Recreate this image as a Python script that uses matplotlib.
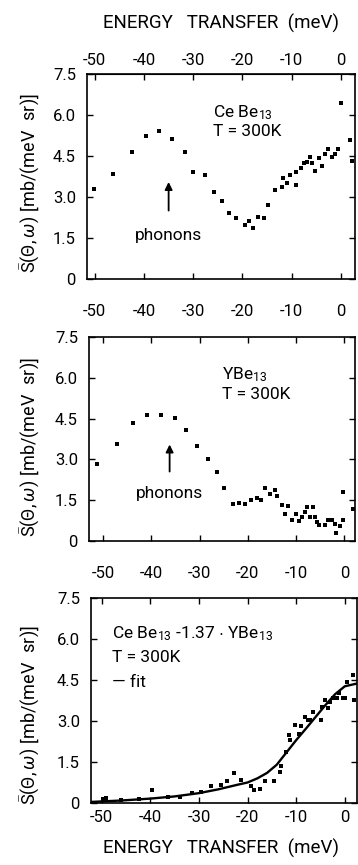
#!/usr/bin/env python
import matplotlib
matplotlib.use("Agg")
import matplotlib.pyplot as plt

plt.rcParams['font.family'] = ['Roboto', 'DejaVu Sans']
plt.rcParams['axes.unicode_minus'] = False
plt.rcParams['mathtext.fontset'] = 'custom'
plt.rcParams['mathtext.rm'] = 'Roboto'
plt.rcParams['mathtext.it'] = 'Roboto:italic'
plt.rcParams['mathtext.bf'] = 'Roboto:bold'

# Panel 1: CeBe13, T = 300K
cebe_x = [-50.1, -46.3, -42.4, -39.6, -36.9, -34.3, -31.7, -30.0, -27.7, -25.7,
          -24.2, -22.7, -21.2, -19.5, -18.6, -17.8, -16.8, -15.7, -14.7, -13.4,
          -12.0, -11.7, -11.0, -10.3, -9.0, -9.1, -8.1, -7.5, -6.8, -6.2,
          -5.9, -5.2, -4.5, -3.9, -3.2, -2.5, -1.8, -1.2, -0.5, 0.0,
          1.9, 2.2]
cebe_y = [3.29, 3.84, 4.63, 5.24, 5.42, 5.13, 4.63, 3.91, 3.79, 3.17,
          2.84, 2.41, 2.23, 1.98, 2.11, 1.86, 2.26, 2.23, 2.72, 3.24,
          3.35, 3.69, 3.51, 3.81, 3.45, 3.90, 4.05, 4.24, 4.27, 4.46,
          4.24, 3.96, 4.42, 4.12, 4.58, 4.75, 4.48, 4.58, 4.75, 6.43,
          5.09, 4.32]

# Panel 2: YBe13, T = 300K
ybe_x = [-51.2, -47.2, -43.8, -40.8, -37.9, -35.1, -32.8, -30.6, -28.3, -26.4,
         -25.0, -23.1, -21.8, -20.5, -19.3, -18.1, -17.3, -16.4, -15.4, -14.3,
         -13.9, -13.0, -12.3, -11.6, -10.9, -10.0, -9.4, -8.7, -8.1, -7.8,
         -7.1, -6.6, -6.1, -5.7, -5.2, -4.0, -3.3, -2.6, -1.9, -1.7,
         -1.0, -0.3, -0.2, 1.7]
ybe_y = [2.82, 3.58, 4.34, 4.64, 4.64, 4.52, 4.07, 3.48, 3.03, 2.54,
         1.96, 1.35, 1.40, 1.35, 1.52, 1.59, 1.50, 1.96, 1.74, 1.89,
         1.65, 1.34, 1.00, 1.27, 0.76, 1.00, 0.74, 0.88, 1.07, 1.25,
         0.88, 1.25, 0.88, 0.70, 0.58, 0.58, 0.78, 0.78, 0.64, 0.29,
         0.54, 0.76, 1.81, 1.16]

# Panel 3: CeBe13 - 1.37 YBe13 difference and fit
diff_x = [-49.7, -49.2, -46.1, -42.4, -39.6, -36.4, -34.0, -31.4, -29.6, -27.5,
          -25.5, -24.2, -22.7, -21.3, -19.2, -18.6, -17.5, -16.5, -14.5, -13.4,
          -13.1, -12.1, -11.5, -11.2, -10.2, -9.4, -9.0, -8.1, -7.6, -7.2,
          -6.6, -4.9, -4.7, -4.0, -3.5, -3.1, -2.4, -1.7, -1.3, -0.3,
          0.0, 0.5, 1.6, 1.9]
diff_y = [0.16, 0.18, 0.12, 0.15, 0.49, 0.22, 0.22, 0.37, 0.39, 0.61,
          0.65, 0.79, 1.10, 0.83, 0.61, 0.49, 0.51, 0.82, 0.82, 1.12,
          1.34, 1.85, 2.50, 2.32, 2.87, 2.52, 2.83, 3.15, 3.02, 3.02,
          3.32, 3.05, 3.51, 3.78, 3.48, 3.68, 3.84, 3.84, 4.02, 3.84,
          3.84, 4.41, 4.70, 3.76]
fit_x = [-52, -46, -40, -35, -30, -26, -22, -20, -18, -16,
         -14, -12, -10, -8, -6, -4, -2, 0, 2.5]
fit_y = [0.04, 0.09, 0.16, 0.24, 0.36, 0.50, 0.67, 0.75, 0.90, 1.10,
         1.40, 1.85, 2.30, 2.72, 3.15, 3.58, 3.98, 4.27, 4.37]

x_ticks = [-50, -40, -30, -20, -10, 0]
y_ticks = [0, 1.5, 3.0, 4.5, 6.0, 7.5]
y_tick_labels = ['0', '1.5', '3.0', '4.5', '6.0', '7.5']

YLABEL = r'$\bar{\mathrm{S}}(\Theta,\omega)\ \left[\mathrm{mb/(meV\ \ sr)}\right]$'
XLABEL = 'ENERGY   TRANSFER  (meV)'
TICK_FS = 12
TEXT_FS = 12.5


def style_axes(ax, xlim, bottom_pad):
    """Common frame, ticks and limits for one panel"""
    ax.set_xlim(*xlim)
    ax.set_ylim(0, 7.5)
    ax.set_xticks(x_ticks)
    ax.set_yticks(y_ticks)
    ax.set_yticklabels(y_tick_labels)
    ax.tick_params(direction='in', length=4, width=1, labelsize=TICK_FS,
                   top=True, right=True, color='black')
    ax.tick_params(axis='x', pad=bottom_pad)
    ax.tick_params(axis='y', pad=8)
    for sp in ax.spines.values():
        sp.set_linewidth(1.2)


def phonon_arrow(ax, x, y0, y1, ytxt):
    ax.annotate('', xy=(x, y1), xytext=(x, y0),
                arrowprops=dict(arrowstyle='-|>', color='black', lw=1.3,
                                mutation_scale=11))
    ax.text(x, ytxt, 'phonons', ha='center', va='center', fontsize=TEXT_FS)


fig = plt.figure(figsize=(3.58, 8.65), dpi=100)

# top panel
ax1 = fig.add_axes([0.2430, 0.6775, 0.7486, 0.2370])
ax1.plot(cebe_x, cebe_y, 's', color='black', ms=2.4, mew=0)
style_axes(ax1, (-51.6, 2.9), 18)
# labels on top need a smaller pad than the bottom ones
top = ax1.secondary_xaxis('top')
top.set_xticks(x_ticks)
top.tick_params(direction='in', length=4, width=1, labelsize=TICK_FS, pad=4)
ax1.tick_params(top=False)
ax1.text(0.47, 0.81, r'Ce Be$_{13}$', transform=ax1.transAxes, fontsize=TEXT_FS, va='center')
ax1.text(0.47, 0.72, 'T = 300K', transform=ax1.transAxes, fontsize=TEXT_FS, va='center')
phonon_arrow(ax1, -35, 2.4, 3.65, 1.6)

# middle panel
ax2 = fig.add_axes([0.2486, 0.3746, 0.7430, 0.2358])
ax2.plot(ybe_x, ybe_y, 's', color='black', ms=2.4, mew=0)
style_axes(ax2, (-52.9, 2.2), 18)
ax2.text(0.5, 0.815, r'YBe$_{13}$', transform=ax2.transAxes, fontsize=TEXT_FS, va='center')
ax2.text(0.5, 0.72, 'T = 300K', transform=ax2.transAxes, fontsize=TEXT_FS, va='center')
phonon_arrow(ax2, -36.2, 2.45, 3.65, 1.73)

# bottom panel
ax3 = fig.add_axes([0.2542, 0.0717, 0.7430, 0.2370])
ax3.plot(diff_x, diff_y, 's', color='black', ms=2.4, mew=0)
ax3.plot(fit_x, fit_y, '-', color='black', lw=1.7)
style_axes(ax3, (-52.2, 2.5), 5)
ax3.text(0.079, 0.824, r'Ce Be$_{13}$ -1.37 $\cdot$ YBe$_{13}$', transform=ax3.transAxes,
         fontsize=TEXT_FS, va='center')
ax3.text(0.079, 0.712, 'T = 300K', transform=ax3.transAxes, fontsize=TEXT_FS, va='center')
ax3.text(0.079, 0.59, '— fit', transform=ax3.transAxes, fontsize=TEXT_FS, va='center')

# shared labels
fig.text(0.617, 1 - 23 / 865, XLABEL, ha='center', va='center', fontsize=13.5)
fig.text(0.617, 1 - 848 / 865, XLABEL, ha='center', va='center', fontsize=13.5)
for yc in [0.788, 0.483, 0.173]:
    fig.text(30 / 358, yc, YLABEL, rotation=90, ha='center', va='center', fontsize=13)

fig.savefig('out.png', dpi=100)
